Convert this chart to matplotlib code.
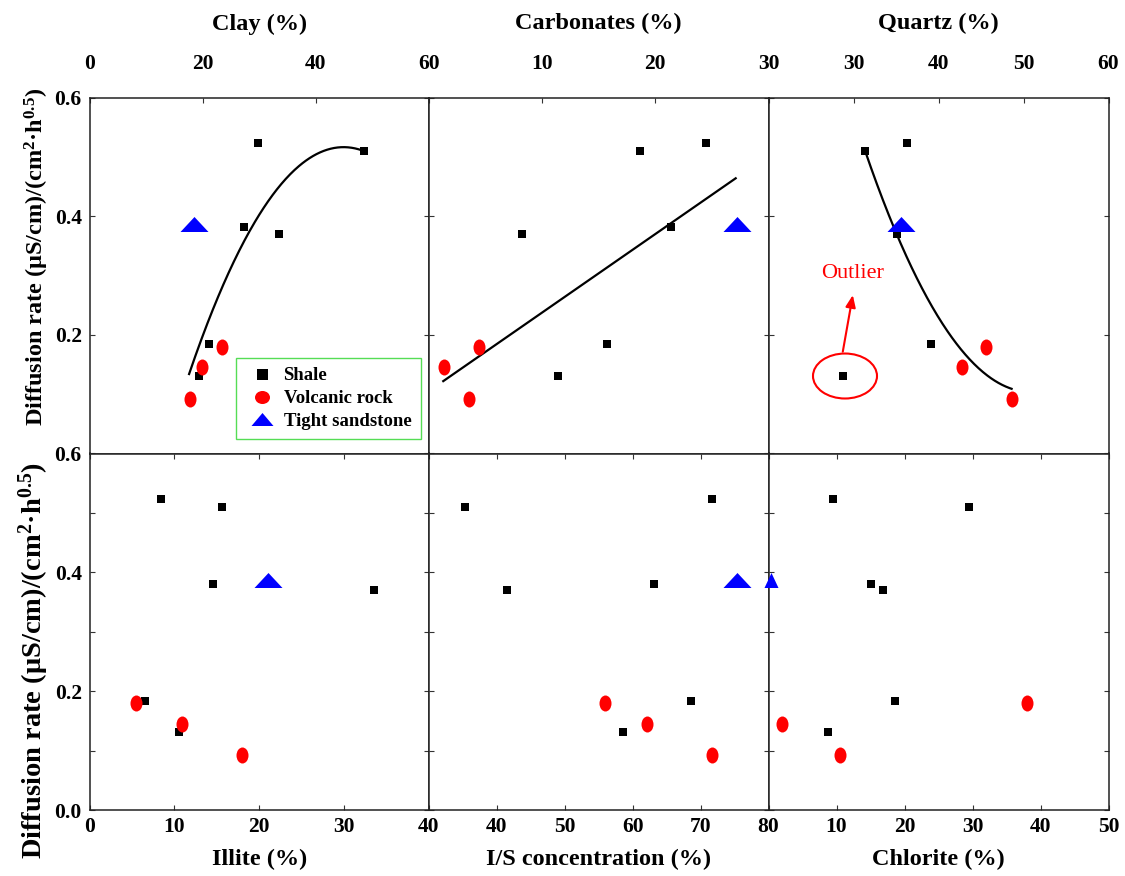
import numpy as np
import matplotlib
matplotlib.use("Agg")
import matplotlib.pyplot as plt
from matplotlib.path import Path
from matplotlib.lines import Line2D
from matplotlib.patches import Ellipse

plt.rcParams['font.family'] = ['Liberation Serif', 'DejaVu Serif']
plt.rcParams['font.weight'] = 'bold'
plt.rcParams['mathtext.fontset'] = 'custom'
plt.rcParams['mathtext.rm'] = 'Liberation Serif:bold'
plt.rcParams['mathtext.bf'] = 'Liberation Serif:bold'
plt.rcParams['mathtext.it'] = 'Liberation Serif:bold:italic'

# ---- diffusion rate of each sample, (uS/cm)/(cm2*h^0.5) ----
shale_rate = [0.523, 0.510, 0.381, 0.370, 0.184, 0.131]
volcanic_rate = [0.180, 0.145, 0.092]
sandstone_rate = [0.387]

# ---- mineral contents (%) in the same sample order ----
clay_shale = [29.7, 48.5, 27.3, 33.5, 21.2, 19.3]
clay_volcanic = [23.5, 19.9, 17.8]
clay_sandstone = [18.5]

carbonate_shale = [24.5, 18.67, 21.4, 8.19, 15.7, 11.37]
carbonate_volcanic = [4.42, 1.35, 3.53]
carbonate_sandstone = [27.2]

quartz_shale = [36.33, 31.39, 35.5, 35.08, 39.1, 28.76]
quartz_volcanic = [45.55, 42.8, 48.6]
quartz_sandstone = [35.55]

illite_shale = [8.42, 15.65, 14.55, 33.48, 6.58, 10.54]
illite_volcanic = [5.48, 10.94, 17.93]
illite_sandstone = [21.0]

is_shale = [71.63, 35.26, 63.18, 41.44, 68.54, 58.57]
is_volcanic = [55.92, 62.15, 71.68]
is_sandstone = [75.4]

chlorite_shale = [9.49, 29.53, 15.03, 16.88, 18.6, 8.7]
chlorite_volcanic = [37.97, 1.99, 10.47]
chlorite_sandstone = [0.37]

# ---- fitted trends (polynomial coefficients, highest power first) ----
clay_fit = [-0.000513, 0.04607, -0.518]
clay_fit_range = [17.6, 48.5]
carbonate_fit = [0.01323, 0.1053]
carbonate_fit_range = [1.26, 27.1]
quartz_fit = [0.001074, -0.10915, 2.877]
quartz_fit_range = [31.39, 48.6]

# ---- axis titles and tick labels ----
titles = ['Clay (%)', 'Carbonates (%)', 'Quartz (%)',
          'Illite (%)', 'I/S concentration (%)', 'Chlorite (%)']
x_ticks = [[0, 20, 40, 60], [0, 10, 20, 30], [20, 30, 40, 50, 60],
           [0, 10, 20, 30, 40], [30, 40, 50, 60, 70, 80], [0, 10, 20, 30, 40, 50]]
x_ticklabels = [['0', '20', '40', '60'], ['', '10', '20', '30'],
                ['', '30', '40', '50', '60'],
                ['0', '10', '20', '30', '40'], ['', '40', '50', '60', '70', '80'],
                ['', '10', '20', '30', '40', '50']]
y_ticks = [0.0, 0.2, 0.4, 0.6]
y_ticklabels_top = ['', '0.2', '0.4', '0.6']
y_ticklabels_bottom = ['0.0', '0.2', '0.4', '0.6']
legend_labels = ['Shale', 'Volcanic rock', 'Tight sandstone']
ylabel = r'Diffusion rate (μS/cm)/(cm$^{2}$·h$^{0.5}$)'

PX = 72.0 / 100.0  # points per pixel at dpi=100


def triangle_path(half_w, half_h):
    return Path([(-half_w, -half_h), (half_w, -half_h), (0, half_h), (-half_w, -half_h)],
                [Path.MOVETO, Path.LINETO, Path.LINETO, Path.CLOSEPOLY])


def ellipse_path(sx, sy):
    c = Path.unit_circle()
    return Path(c.vertices * np.array([sx, sy]), c.codes)


tri_wide = triangle_path(1.0, 15 / 28)
tri_narrow = triangle_path(14 / 15, 1.0)
tri_legend = triangle_path(1.0, 13 / 22)
oval_tall = ellipse_path(0.75, 1.0)
oval_legend = ellipse_path(1.0, 0.87)

fig = plt.figure(figsize=(11.25, 8.76), dpi=100)
W, H = 1125.0, 876.0
xs = [89.5, 429.0, 768.5, 1108.5]
ys = [97.5, 453.5, 810.0]

panels = [
    (clay_shale, clay_volcanic, clay_sandstone, (0, 60), clay_fit, clay_fit_range),
    (carbonate_shale, carbonate_volcanic, carbonate_sandstone, (0, 30), carbonate_fit, carbonate_fit_range),
    (quartz_shale, quartz_volcanic, quartz_sandstone, (20, 60), quartz_fit, quartz_fit_range),
    (illite_shale, illite_volcanic, illite_sandstone, (0, 40), None, None),
    (is_shale, is_volcanic, is_sandstone, (30, 80), None, None),
    (chlorite_shale, chlorite_volcanic, chlorite_sandstone, (0, 50), None, None),
]

# y-label size and vertical centre for each row
ylabel_size = [17.5, 20.5]
ylabel_center = [0.553, 0.419]

axes = []
for i, (sh, vo, sa, xlim, fit, frange) in enumerate(panels):
    row, col = divmod(i, 3)
    left = xs[col] / W
    width = (xs[col + 1] - xs[col]) / W
    bottom = 1 - ys[row + 1] / H
    height = (ys[row + 1] - ys[row]) / H
    ax = fig.add_axes([left, bottom, width, height])
    axes.append(ax)

    if fit is not None:
        xx = np.linspace(frange[0], frange[1], 200)
        ax.plot(xx, np.polyval(fit, xx), color='black', lw=1.6, zorder=2)

    ax.plot(sh, shale_rate, ls='none', marker='s', ms=8 * PX, color='black', mew=0, zorder=3)
    ax.plot(vo, volcanic_rate, ls='none', marker=oval_tall, ms=16 * PX, color='red', mew=0, zorder=3)
    tri = tri_narrow if i == 5 else tri_wide
    tri_ms = 15 * PX if i == 5 else 28 * PX
    ax.plot(sa, sandstone_rate, ls='none', marker=tri, ms=tri_ms, color='blue', mew=0,
            zorder=4, clip_on=False)

    ax.set_xlim(*xlim)
    ax.set_ylim(0, 0.6)
    ax.set_xticks(x_ticks[i], x_ticklabels[i])
    ax.set_yticks(y_ticks)
    if row == 1:
        ax.set_yticks([0.1, 0.3, 0.5], minor=True)

    for s in ax.spines.values():
        s.set_linewidth(1.1)
        s.set_color('#222222')

    ax.tick_params(which='both', direction='in', length=3.6, width=0.8, color='#333333',
                   labelsize=15.5, right=True, left=True)
    if row == 0:
        ax.tick_params(axis='x', which='both', top=True, bottom=False,
                       labeltop=True, labelbottom=False, pad=17)
        ax.xaxis.set_label_position('top')
        ax.set_xlabel(titles[i], fontsize=17.5, fontweight='bold')
        ax.xaxis.set_label_coords(0.5, 1.191)
    else:
        ax.tick_params(axis='x', which='both', top=True, bottom=True,
                       labeltop=False, labelbottom=True, pad=4.7)
        ax.set_xlabel(titles[i], fontsize=17.5, fontweight='bold')
        ax.xaxis.set_label_coords(0.5, -0.109)

    if col == 0:
        ax.set_yticklabels(y_ticklabels_top if row == 0 else y_ticklabels_bottom)
        ax.tick_params(axis='y', pad=5.6)
        ax.set_ylabel(ylabel, fontsize=ylabel_size[row], fontweight='bold')
        ax.yaxis.set_label_coords(-0.113, ylabel_center[row])
    else:
        ax.tick_params(axis='y', labelleft=False)

    for lab in ax.get_xticklabels() + ax.get_yticklabels():
        lab.set_fontweight('bold')

# legend in the clay panel
handles = [
    Line2D([], [], ls='none', marker='s', ms=11 * PX, color='black', mew=0),
    Line2D([], [], ls='none', marker=oval_legend, ms=15 * PX, color='red', mew=0),
    Line2D([], [], ls='none', marker=tri_legend, ms=22 * PX, color='blue', mew=0),
]
leg = axes[0].legend(handles, legend_labels, loc='lower left', bbox_to_anchor=(0.4306, 0.040),
                     borderaxespad=0, numpoints=1, prop={'weight': 'bold', 'size': 13.5},
                     frameon=True, fancybox=False, framealpha=1, edgecolor='#55dd55',
                     borderpad=0.5, handlelength=1.8, handletextpad=0.25, labelspacing=0.3)
leg.get_frame().set_linewidth(1.0)

# outlier annotation in the quartz panel
axq = axes[2]
axq.add_patch(Ellipse((29.0, 0.1306), width=7.53, height=0.0758, fill=False,
                      edgecolor='red', lw=1.5, zorder=5))
axq.annotate('', xy=(29.92, 0.267), xytext=(28.74, 0.1716),
             arrowprops=dict(arrowstyle='-|>,head_length=0.6,head_width=0.25', color='red',
                             lw=1.5, mutation_scale=12, shrinkA=0, shrinkB=0))
axq.text(29.86, 0.3037, 'Outlier', color='red', fontsize=16, fontweight='normal',
         ha='center', va='center')

fig.savefig('out.png', dpi=100)
